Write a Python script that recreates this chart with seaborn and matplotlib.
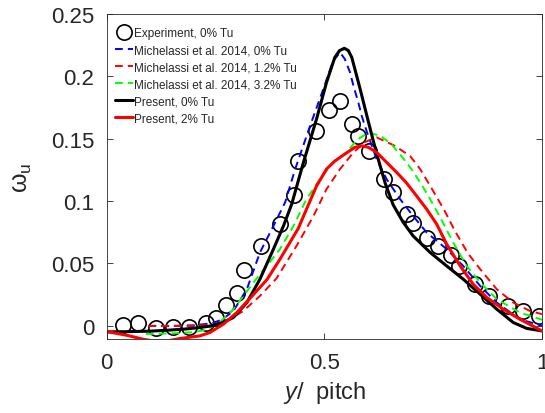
import matplotlib
matplotlib.use("Agg")
import matplotlib.pyplot as plt
import seaborn as sns
import pandas as pd

# Experimental wake loss profile (0% Tu)
exp_x = [0.038, 0.073, 0.113, 0.152, 0.190, 0.227, 0.251, 0.273, 0.300, 0.315, 0.355,
         0.398, 0.431, 0.440, 0.481, 0.510, 0.536, 0.564, 0.577, 0.603, 0.638, 0.658,
         0.689, 0.704, 0.735, 0.762, 0.790, 0.809, 0.845, 0.878, 0.921, 0.957, 0.994]
exp_y = [0.0006, 0.002, -0.002, -0.001, -0.0005, 0.0024, 0.006, 0.0166, 0.026, 0.0446, 0.064,
         0.0815, 0.1047, 0.1317, 0.156, 0.173, 0.180, 0.1616, 0.152, 0.140, 0.118, 0.107,
         0.0895, 0.0828, 0.0703, 0.0636, 0.0566, 0.048, 0.0334, 0.024, 0.016, 0.012, 0.008]

# Michelassi et al. 2014, 0% Tu
m0_x = [0.096, 0.150, 0.200, 0.240, 0.265, 0.291, 0.322, 0.352, 0.383, 0.410, 0.433,
        0.467, 0.498, 0.520, 0.536, 0.547, 0.559, 0.567, 0.578, 0.586, 0.597, 0.620,
        0.643, 0.674, 0.704, 0.735, 0.781, 0.819, 0.858, 0.896, 0.949, 1.000]
m0_y = [0.0, 0.0, 0.0005, 0.002, 0.005, 0.012, 0.0294, 0.0588, 0.080, 0.099, 0.1256,
        0.160, 0.190, 0.2120, 0.219, 0.2137, 0.203, 0.192, 0.179, 0.168, 0.1560, 0.1336,
        0.1175, 0.1015, 0.088, 0.0748, 0.0615, 0.048, 0.032, 0.0187, 0.0054, 0.0]

# Michelassi et al. 2014, 1.2% Tu
m12_x = [0.095, 0.150, 0.200, 0.245, 0.283, 0.314, 0.352, 0.390, 0.436, 0.475, 0.505,
         0.536, 0.567, 0.595, 0.620, 0.662, 0.697, 0.720, 0.745, 0.775, 0.800, 0.830,
         0.858, 0.896, 0.934, 0.972, 1.000]
m12_y = [0.0, 0.0, 0.0, 0.001, 0.0055, 0.012, 0.024, 0.038, 0.064, 0.088, 0.1095,
         0.1256, 0.139, 0.1475, 0.151, 0.1442, 0.136, 0.1256, 0.111, 0.093, 0.076, 0.058,
         0.0454, 0.0294, 0.0187, 0.012, 0.0094]

# Michelassi et al. 2014, 3.2% Tu
m32_x = [0.090, 0.150, 0.200, 0.230, 0.260, 0.290, 0.314, 0.340, 0.370, 0.398, 0.429,
         0.459, 0.490, 0.520, 0.551, 0.575, 0.600, 0.628, 0.654, 0.677, 0.700, 0.720,
         0.739, 0.758, 0.775, 0.796, 0.827, 0.858, 0.896, 0.949, 1.000]
m32_y = [-0.0065, -0.006, -0.005, -0.003, 0.003, 0.013, 0.024, 0.036, 0.049, 0.0615, 0.080,
         0.1015, 0.1175, 0.131, 0.139, 0.149, 0.1545, 0.1525, 0.1456, 0.136, 0.1256, 0.115,
         0.104, 0.092, 0.081, 0.0668, 0.048, 0.0348, 0.0214, 0.0107, 0.005]

# Present computation, 0% Tu
p0_x = [0.000, 0.050, 0.100, 0.138, 0.180, 0.214, 0.240, 0.265, 0.291, 0.322, 0.352,
        0.383, 0.406, 0.425, 0.452, 0.482, 0.505, 0.524, 0.535, 0.546, 0.555, 0.563,
        0.582, 0.600, 0.620, 0.640, 0.658, 0.681, 0.704, 0.743, 0.781, 0.819, 0.858,
        0.896, 0.934, 0.965, 1.000]
p0_y = [-0.0048, -0.0046, -0.0042, -0.0035, -0.0025, -0.0013, 0.0, 0.0025, 0.0067, 0.0187, 0.0374,
        0.0615, 0.080, 0.0975, 0.131, 0.1656, 0.195, 0.215, 0.2205, 0.2223, 0.2205, 0.2150,
        0.190, 0.165, 0.138, 0.114, 0.097, 0.083, 0.072, 0.0588, 0.048, 0.0374, 0.0254,
        0.0134, 0.0027, -0.002, -0.004]

# Present computation, 2% Tu
p2_x = [0.000, 0.046, 0.084, 0.125, 0.168, 0.214, 0.237, 0.268, 0.299, 0.329, 0.368,
        0.398, 0.440, 0.459, 0.482, 0.505, 0.524, 0.547, 0.570, 0.586, 0.601, 0.620,
        0.643, 0.666, 0.689, 0.712, 0.735, 0.758, 0.781, 0.812, 0.842, 0.873, 0.911,
        0.949, 1.000]
p2_y = [-0.0045, -0.0075, -0.0107, -0.013, -0.0101, -0.008, -0.0053, 0.0014, 0.0107, 0.022, 0.037,
        0.0534, 0.078, 0.0935, 0.112, 0.1256, 0.132, 0.1376, 0.143, 0.1442, 0.143, 0.139,
        0.131, 0.123, 0.1144, 0.104, 0.0935, 0.0815, 0.0655, 0.048, 0.0334, 0.0228, 0.0134,
        0.0054, -0.004]

x_ticks = [0, 0.5, 1]
x_ticklabels = ["0", "0.5", "1"]
y_ticks = [0, 0.05, 0.1, 0.15, 0.2, 0.25]
y_ticklabels = ["0", "0.05", "0.1", "0.15", "0.2", "0.25"]

sns.set_theme(style="ticks")
plt.rcParams.update({
    "font.family": ["Liberation Sans", "DejaVu Sans"],
    "mathtext.fontset": "custom",
    "mathtext.rm": "Liberation Sans",
    "mathtext.it": "Liberation Sans:italic",
    "xtick.direction": "in",
    "ytick.direction": "in",
    "axes.edgecolor": "#262626",
    "xtick.color": "#262626",
    "ytick.color": "#262626",
    "axes.linewidth": 0.6,
})

fig = plt.figure(figsize=(5.45, 4.14), dpi=100)
ax = fig.add_axes([0.1958, 0.1787, 0.7987, 0.7858])

sns.lineplot(x=exp_x, y=exp_y, ax=ax, linestyle="", marker="o", markersize=11,
             markerfacecolor="none", markeredgecolor="black", markeredgewidth=1.2,
             color="black", label="Experiment, 0% Tu", sort=False, errorbar=None)

dash = (0, (4, 2.6))
sns.lineplot(x=m0_x, y=m0_y, ax=ax, color="#0000ff", linewidth=1.4, linestyle=dash,
             label="Michelassi et al. 2014, 0% Tu", sort=False, errorbar=None)
sns.lineplot(x=m12_x, y=m12_y, ax=ax, color="#ff0000", linewidth=1.4, linestyle=dash,
             label="Michelassi et al. 2014, 1.2% Tu", sort=False, errorbar=None)
sns.lineplot(x=m32_x, y=m32_y, ax=ax, color="#00ff00", linewidth=1.4, linestyle=dash,
             label="Michelassi et al. 2014, 3.2% Tu", sort=False, errorbar=None)
sns.lineplot(x=p0_x, y=p0_y, ax=ax, color="black", linewidth=2.2,
             label="Present, 0% Tu", sort=False, errorbar=None)
sns.lineplot(x=p2_x, y=p2_y, ax=ax, color="#ff0000", linewidth=2.2,
             label="Present, 2% Tu", sort=False, errorbar=None)

ax.set_xlim(0, 1)
ax.set_ylim(-0.0105, 0.25)
ax.set_xticks(x_ticks)
ax.set_xticklabels(x_ticklabels)
ax.set_yticks(y_ticks)
ax.set_yticklabels(y_ticklabels)
ax.tick_params(axis="both", which="both", top=True, right=True, length=4, width=0.6,
               labelsize=16, pad=9, labelcolor="#262626")
for s in ax.spines.values():
    s.set_visible(True)

ax.set_xlabel(r"$\it{y}$/  pitch", fontsize=17, color="#262626", labelpad=5)
ax.set_ylabel(r"$\mathrm{\omega_u}$", fontsize=18, color="#262626", labelpad=12)

leg = ax.legend(loc="upper left", bbox_to_anchor=(0.0, 0.984), frameon=False,
                fontsize=8.5, handlelength=1.5, handletextpad=0.15,
                labelspacing=0.43, borderaxespad=0.4, borderpad=0.3)

fig.savefig("out.png", dpi=100)
